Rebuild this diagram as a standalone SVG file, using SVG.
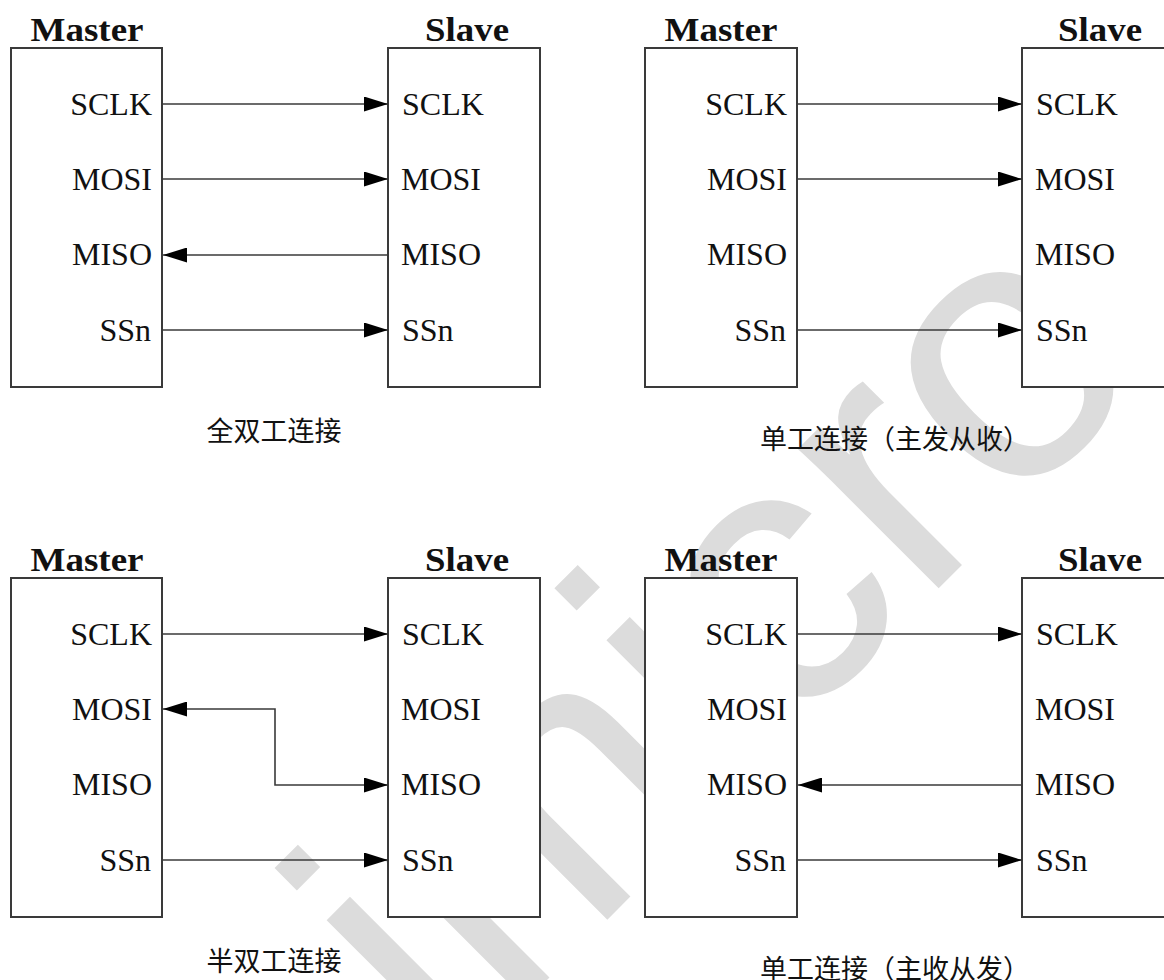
<svg xmlns="http://www.w3.org/2000/svg" width="1164" height="980" viewBox="0 0 1164 980">
<defs>
<style>
.box{fill:#fff;stroke:#3a3a3a;stroke-width:2}
.ttl{font-family:"Liberation Serif",serif;font-weight:bold;font-size:33px;fill:#111;text-anchor:middle}
.lm{font-family:"Liberation Serif",serif;font-size:32px;fill:#111;text-anchor:end}
.ls{font-family:"Liberation Serif",serif;font-size:32px;fill:#111;text-anchor:start}
.cap{font-family:"Noto Sans CJK SC",sans-serif;font-size:27px;fill:#111;text-anchor:middle}
.wire{fill:none;stroke:#3a3a3a;stroke-width:1.6}
.wm{font-family:"Liberation Sans",sans-serif;font-size:375px;fill:#dcdcdc}
</style>
<marker id="ah" viewBox="0 0 24 15" refX="24" refY="7.5" markerWidth="24" markerHeight="15" markerUnits="userSpaceOnUse" orient="auto-start-reverse">
<path d="M0,0 L24,7.5 L0,15 z" fill="#000"/>
</marker>
</defs>
<rect width="1164" height="980" fill="#fff"/>
<g id="watermark"><text class="wm" transform="translate(449,1078) rotate(-45)">imicro</text></g>

<g id="full-master">
<rect class="box" x="11" y="48" width="151" height="339"/>
<text class="ttl" x="87" y="41" textLength="113" lengthAdjust="spacingAndGlyphs">Master</text>
<text class="lm" x="152" y="115">SCLK</text>
<text class="lm" x="152" y="190">MOSI</text>
<text class="lm" x="152" y="265">MISO</text>
<text class="lm" x="151" y="341">SSn</text>
</g>
<g id="full-slave">
<rect class="box" x="388" y="48" width="152" height="339"/>
<text class="ttl" x="467" y="41" textLength="84" lengthAdjust="spacingAndGlyphs">Slave</text>
<text class="ls" x="402" y="115">SCLK</text>
<text class="ls" x="401" y="190">MOSI</text>
<text class="ls" x="401" y="265">MISO</text>
<text class="ls" x="402" y="341">SSn</text>
</g>
<g id="full-caption"><text class="cap" x="274" y="441">全双工连接</text></g>

<g id="tx-master">
<rect class="box" x="645" y="48" width="152" height="339"/>
<text class="ttl" x="721" y="41" textLength="113" lengthAdjust="spacingAndGlyphs">Master</text>
<text class="lm" x="787" y="115">SCLK</text>
<text class="lm" x="787" y="190">MOSI</text>
<text class="lm" x="787" y="265">MISO</text>
<text class="lm" x="786" y="341">SSn</text>
</g>
<g id="tx-slave">
<rect class="box" x="1022" y="48" width="152" height="339"/>
<text class="ttl" x="1100" y="41" textLength="84" lengthAdjust="spacingAndGlyphs">Slave</text>
<text class="ls" x="1036" y="115">SCLK</text>
<text class="ls" x="1035" y="190">MOSI</text>
<text class="ls" x="1035" y="265">MISO</text>
<text class="ls" x="1036" y="341">SSn</text>
</g>
<g id="tx-caption"><text class="cap" x="895" y="449">单工连接（主发从收）</text></g>

<g id="half-master">
<rect class="box" x="11" y="578" width="151" height="339"/>
<text class="ttl" x="87" y="571" textLength="113" lengthAdjust="spacingAndGlyphs">Master</text>
<text class="lm" x="152" y="645">SCLK</text>
<text class="lm" x="152" y="720">MOSI</text>
<text class="lm" x="152" y="795">MISO</text>
<text class="lm" x="151" y="871">SSn</text>
</g>
<g id="half-slave">
<rect class="box" x="388" y="578" width="152" height="339"/>
<text class="ttl" x="467" y="571" textLength="84" lengthAdjust="spacingAndGlyphs">Slave</text>
<text class="ls" x="402" y="645">SCLK</text>
<text class="ls" x="401" y="720">MOSI</text>
<text class="ls" x="401" y="795">MISO</text>
<text class="ls" x="402" y="871">SSn</text>
</g>
<g id="half-caption"><text class="cap" x="274" y="971">半双工连接</text></g>

<g id="rx-master">
<rect class="box" x="645" y="578" width="152" height="339"/>
<text class="ttl" x="721" y="571" textLength="113" lengthAdjust="spacingAndGlyphs">Master</text>
<text class="lm" x="787" y="645">SCLK</text>
<text class="lm" x="787" y="720">MOSI</text>
<text class="lm" x="787" y="795">MISO</text>
<text class="lm" x="786" y="871">SSn</text>
</g>
<g id="rx-slave">
<rect class="box" x="1022" y="578" width="152" height="339"/>
<text class="ttl" x="1100" y="571" textLength="84" lengthAdjust="spacingAndGlyphs">Slave</text>
<text class="ls" x="1036" y="645">SCLK</text>
<text class="ls" x="1035" y="720">MOSI</text>
<text class="ls" x="1035" y="795">MISO</text>
<text class="ls" x="1036" y="871">SSn</text>
</g>
<g id="rx-caption"><text class="cap" x="895" y="979">单工连接（主收从发）</text></g>

<g id="connectors">
<path class="wire" d="M162,104 H388" marker-end="url(#ah)"/>
<path class="wire" d="M162,179 H388" marker-end="url(#ah)"/>
<path class="wire" d="M388,255 H163" marker-end="url(#ah)"/>
<path class="wire" d="M162,330 H388" marker-end="url(#ah)"/>

<path class="wire" d="M797,104 H1022" marker-end="url(#ah)"/>
<path class="wire" d="M797,179 H1022" marker-end="url(#ah)"/>
<path class="wire" d="M797,330 H1022" marker-end="url(#ah)"/>

<path class="wire" d="M162,634 H388" marker-end="url(#ah)"/>
<path class="wire" d="M163,709 H275 V785 H388" marker-start="url(#ah)" marker-end="url(#ah)"/>
<path class="wire" d="M162,860 H388" marker-end="url(#ah)"/>

<path class="wire" d="M797,634 H1022" marker-end="url(#ah)"/>
<path class="wire" d="M1022,785 H798" marker-end="url(#ah)"/>
<path class="wire" d="M797,860 H1022" marker-end="url(#ah)"/>
</g>
</svg>
